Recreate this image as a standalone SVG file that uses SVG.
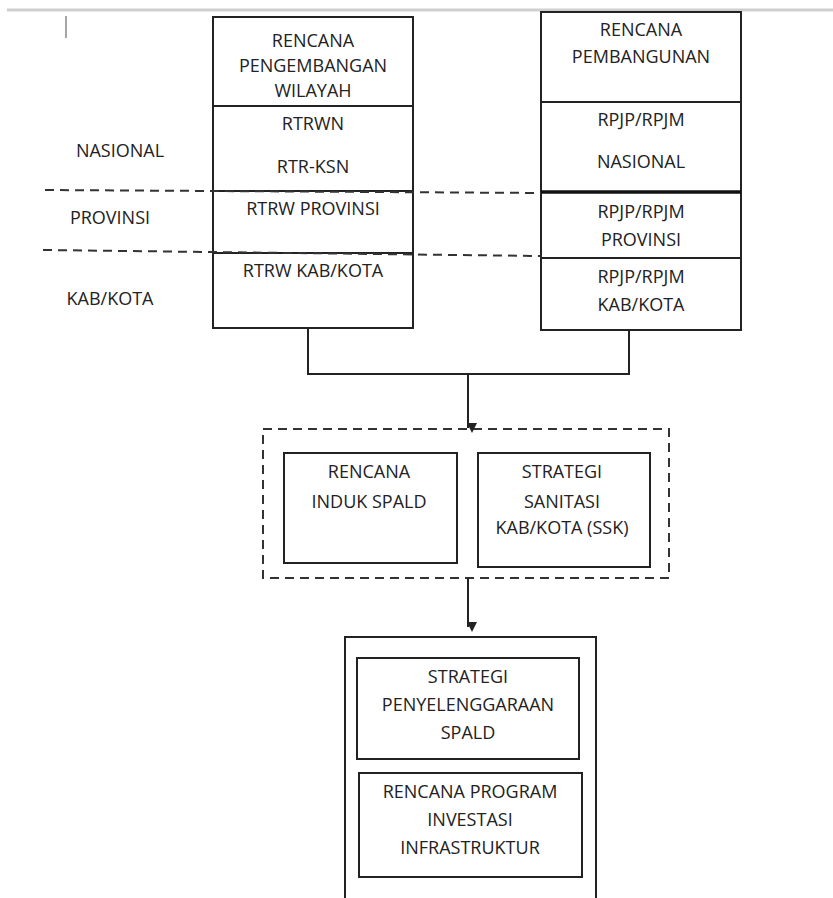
<svg xmlns="http://www.w3.org/2000/svg" width="833" height="898" viewBox="0 0 833 898">
<defs>
<style>
.t{font-family:"Open Sans","Liberation Sans",sans-serif;font-size:18px;fill:#222;text-anchor:middle}
.b{fill:#fff;stroke:#222;stroke-width:2}
.d{fill:none;stroke:#333;stroke-width:2;stroke-dasharray:9,6}
.c{fill:none;stroke:#222;stroke-width:2}
</style>
<marker id="ah" markerWidth="10" markerHeight="10" refX="5" refY="9" orient="auto" markerUnits="userSpaceOnUse" viewBox="0 0 10 10">
<path d="M0,0 L10,0 L5,10 Z" fill="#222" transform="rotate(-90 5 5)"/>
</marker>
</defs>
<rect width="833" height="898" fill="#fff"/>
<line x1="7" y1="10" x2="833" y2="10" stroke="#cfcfcf" stroke-width="3"/>
<line x1="66" y1="16" x2="66" y2="38" stroke="#888" stroke-width="1.5"/>

<g id="levels">
<text class="t" x="120" y="157">NASIONAL</text>
<text class="t" x="110" y="224">PROVINSI</text>
<text class="t" x="110" y="305">KAB/KOTA</text>
</g>

<g id="left-column">
<rect class="b" x="213" y="17" width="200" height="311"/>
<line class="c" x1="213" y1="106" x2="413" y2="106"/>
<line class="c" x1="213" y1="191" x2="413" y2="191"/>
<line class="c" x1="213" y1="253" x2="413" y2="253"/>
<text class="t" x="313" y="47">RENCANA</text>
<text class="t" x="313" y="72">PENGEMBANGAN</text>
<text class="t" x="313" y="97">WILAYAH</text>
<text class="t" x="313" y="130">RTRWN</text>
<text class="t" x="313" y="173">RTR-KSN</text>
<text class="t" x="313" y="215">RTRW PROVINSI</text>
<text class="t" x="313" y="277">RTRW KAB/KOTA</text>
</g>

<g id="right-column">
<rect class="b" x="541" y="12" width="200" height="318"/>
<line class="c" x1="541" y1="102" x2="741" y2="102"/>
<line x1="541" y1="192" x2="741" y2="192" stroke="#111" stroke-width="3.5"/>
<line class="c" x1="541" y1="258" x2="741" y2="258"/>
<text class="t" x="641" y="126">RPJP/RPJM</text>
<text class="t" x="641" y="36">RENCANA</text>
<text class="t" x="641" y="63">PEMBANGUNAN</text>
<text class="t" x="641" y="168">NASIONAL</text>
<text class="t" x="641" y="218">RPJP/RPJM</text>
<text class="t" x="641" y="246">PROVINSI</text>
<text class="t" x="641" y="283">RPJP/RPJM</text>
<text class="t" x="641" y="311">KAB/KOTA</text>
</g>

<g id="dividers">
<line class="d" x1="45" y1="190" x2="541" y2="193"/>
<line class="d" x1="43" y1="250" x2="541" y2="256"/>
</g>

<g id="group-spald">
<rect class="d" x="263" y="429" width="406" height="149"/>
<rect class="b" x="284" y="453" width="173" height="110"/>
<rect class="b" x="478" y="453" width="172" height="114"/>
<text class="t" x="369" y="478">RENCANA</text>
<text class="t" x="369" y="508">INDUK SPALD</text>
<text class="t" x="562" y="478">STRATEGI</text>
<text class="t" x="562" y="508">SANITASI</text>
<text class="t" x="562" y="534">KAB/KOTA (SSK)</text>
</g>

<g id="group-output">
<path class="c" d="M345,898 L345,637 L596,637 L596,898" fill="#fff"/>
<rect class="b" x="357" y="658" width="222" height="101"/>
<rect class="b" x="359" y="773" width="223" height="104"/>
<text class="t" x="468" y="683">STRATEGI</text>
<text class="t" x="468" y="711">PENYELENGGARAAN</text>
<text class="t" x="468" y="739">SPALD</text>
<text class="t" x="470" y="798">RENCANA PROGRAM</text>
<text class="t" x="470" y="826">INVESTASI</text>
<text class="t" x="470" y="854">INFRASTRUKTUR</text>
</g>

<g id="connectors">
<path class="c" d="M308,328 L308,374 L629,374 L629,330"/>
<line class="c" x1="468" y1="374" x2="468" y2="428" marker-end="url(#ah)"/>
<line class="c" x1="468" y1="578" x2="468" y2="627" marker-end="url(#ah)"/>
</g>
</svg>
